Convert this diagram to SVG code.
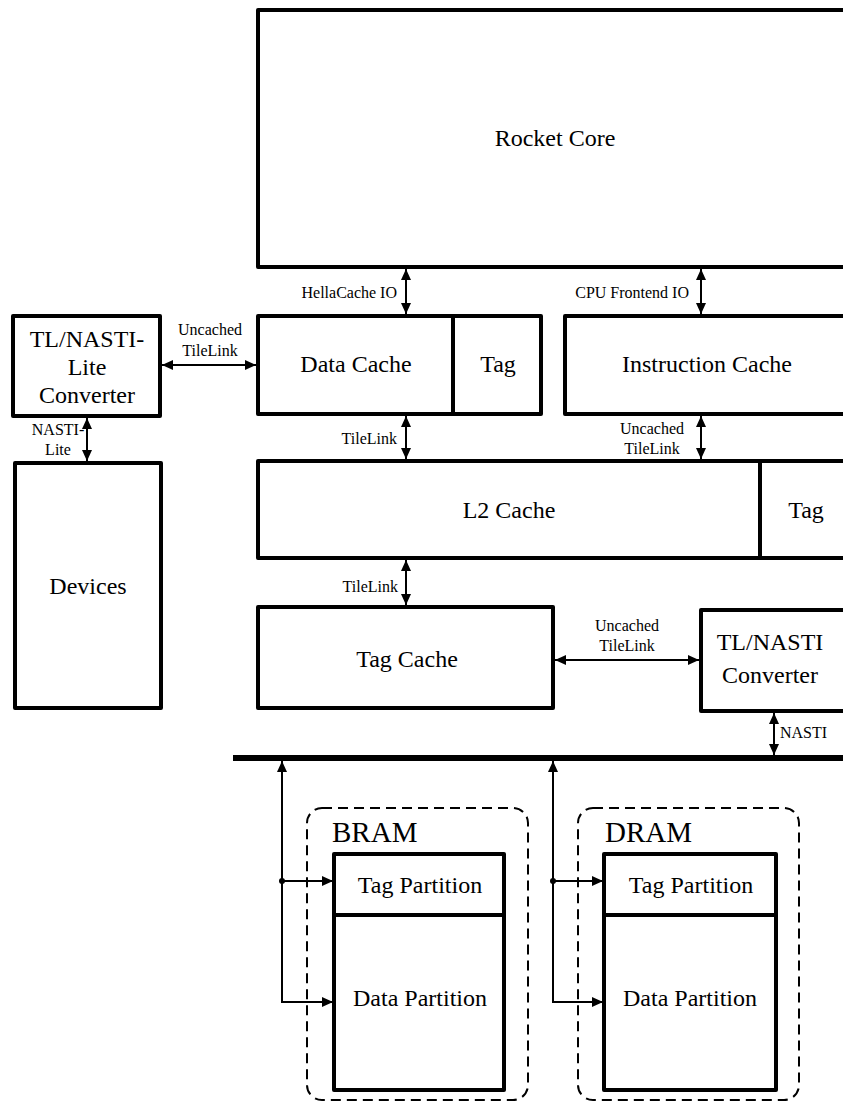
<svg xmlns="http://www.w3.org/2000/svg" width="843" height="1102" viewBox="0 0 843 1102">
  <style>
    .box { fill: #fff; stroke: #000; stroke-width: 4; stroke-linejoin: round; }
    .div { stroke: #000; stroke-width: 4; }
    .dash { fill: none; stroke: #000; stroke-width: 2; stroke-dasharray: 10 6; }
    .lbl { font-family: "Liberation Serif", "Times New Roman", serif; font-size: 24px; fill: #000; text-anchor: middle; }
    .big { font-family: "Liberation Serif", "Times New Roman", serif; font-size: 29px; fill: #000; }
    .sm { font-family: "Liberation Serif", "Times New Roman", serif; font-size: 16px; fill: #000; }
    .mid { text-anchor: middle; }
    .end { text-anchor: end; }
    .wire { fill: none; stroke: #000; stroke-width: 2; }
    .bus { stroke: #000; stroke-width: 6; }
  </style>
  <defs>
    <marker id="head" markerUnits="userSpaceOnUse" markerWidth="11" markerHeight="10" refX="11" refY="5" orient="auto-start-reverse">
      <path d="M0,0 L11,5 L0,10 Z" fill="#000"/>
    </marker>
  </defs>

  <rect width="843" height="1102" fill="#fff"/>

  <!-- core -->
  <g id="rocket-core">
    <rect class="box" x="258" y="10" width="620" height="257"/>
    <text class="lbl" x="555" y="146">Rocket Core</text>
  </g>

  <!-- L1 data cache with tag column -->
  <g id="data-cache">
    <rect class="box" x="258" y="316" width="283" height="98"/>
    <line class="div" x1="453" y1="316" x2="453" y2="414"/>
    <text class="lbl" x="356" y="372">Data Cache</text>
    <text class="lbl" x="498" y="372">Tag</text>
  </g>

  <g id="instruction-cache">
    <rect class="box" x="565" y="316" width="300" height="98"/>
    <text class="lbl" x="707" y="372">Instruction Cache</text>
  </g>

  <g id="tl-nasti-lite">
    <rect class="box" x="13" y="316" width="147" height="100"/>
    <text class="lbl" x="87" y="347">TL/NASTI-</text>
    <text class="lbl" x="87" y="375">Lite</text>
    <text class="lbl" x="87" y="403">Converter</text>
  </g>

  <g id="devices">
    <rect class="box" x="15" y="463" width="146" height="245"/>
    <text class="lbl" x="88" y="594">Devices</text>
  </g>

  <g id="l2-cache">
    <rect class="box" x="258" y="461" width="620" height="97"/>
    <line class="div" x1="760" y1="461" x2="760" y2="558"/>
    <text class="lbl" x="509" y="518">L2 Cache</text>
    <text class="lbl" x="806" y="518">Tag</text>
  </g>

  <g id="tag-cache">
    <rect class="box" x="258" y="607" width="295" height="101"/>
    <text class="lbl" x="407" y="667">Tag Cache</text>
  </g>

  <g id="tl-nasti">
    <rect class="box" x="701" y="610" width="200" height="101"/>
    <text class="lbl" x="770" y="650">TL/NASTI</text>
    <text class="lbl" x="770" y="683">Converter</text>
  </g>

  <!-- memory bus -->
  <g id="bus">
    <line class="bus" x1="233" y1="758" x2="843" y2="758"/>
  </g>

  <g id="bram">
    <rect class="dash" x="307" y="808" width="221" height="292" rx="15"/>
    <text class="big" x="332" y="842">BRAM</text>
    <rect class="box" x="334" y="854" width="170" height="236"/>
    <line class="div" x1="334" y1="915" x2="504" y2="915"/>
    <text class="lbl" x="420" y="893">Tag Partition</text>
    <text class="lbl" x="420" y="1006">Data Partition</text>
  </g>

  <g id="dram">
    <rect class="dash" x="578" y="808" width="221" height="292" rx="15"/>
    <text class="big" x="605" y="842">DRAM</text>
    <rect class="box" x="604" y="854" width="172" height="236"/>
    <line class="div" x1="604" y1="915" x2="776" y2="915"/>
    <text class="lbl" x="691" y="893">Tag Partition</text>
    <text class="lbl" x="690" y="1006">Data Partition</text>
  </g>

  <!-- links between blocks -->
  <g id="connectors">
    <line class="wire" x1="406" y1="269" x2="406" y2="314" marker-start="url(#head)" marker-end="url(#head)"/>
    <line class="wire" x1="701" y1="269" x2="701" y2="314" marker-start="url(#head)" marker-end="url(#head)"/>
    <line class="wire" x1="162" y1="365" x2="256" y2="365" marker-start="url(#head)" marker-end="url(#head)"/>
    <line class="wire" x1="87" y1="418" x2="87" y2="461" marker-start="url(#head)" marker-end="url(#head)"/>
    <line class="wire" x1="406" y1="416" x2="406" y2="459" marker-start="url(#head)" marker-end="url(#head)"/>
    <line class="wire" x1="701" y1="416" x2="701" y2="459" marker-start="url(#head)" marker-end="url(#head)"/>
    <line class="wire" x1="406" y1="560" x2="406" y2="605" marker-start="url(#head)" marker-end="url(#head)"/>
    <line class="wire" x1="555" y1="660" x2="699" y2="660" marker-start="url(#head)" marker-end="url(#head)"/>
    <line class="wire" x1="774" y1="713" x2="774" y2="755" marker-start="url(#head)" marker-end="url(#head)"/>

    <!-- BRAM taps -->
    <line class="wire" x1="282" y1="1002" x2="282" y2="761" marker-end="url(#head)"/>
    <line class="wire" x1="282" y1="881" x2="333" y2="881" marker-end="url(#head)"/>
    <line class="wire" x1="281" y1="1002" x2="333" y2="1002" marker-end="url(#head)"/>
    <circle cx="282" cy="881" r="3" fill="#000"/>

    <!-- DRAM taps -->
    <line class="wire" x1="553" y1="1002" x2="553" y2="761" marker-end="url(#head)"/>
    <line class="wire" x1="553" y1="881" x2="603" y2="881" marker-end="url(#head)"/>
    <line class="wire" x1="552" y1="1002" x2="603" y2="1002" marker-end="url(#head)"/>
    <circle cx="553" cy="881" r="3" fill="#000"/>

    <text class="sm end" x="397" y="298">HellaCache IO</text>
    <text class="sm end" x="689" y="298">CPU Frontend IO</text>
    <text class="sm mid" x="210" y="335">Uncached</text>
    <text class="sm mid" x="210" y="356">TileLink</text>
    <text class="sm mid" x="58" y="435">NASTI-</text>
    <text class="sm mid" x="58" y="455">Lite</text>
    <text class="sm end" x="397" y="444">TileLink</text>
    <text class="sm mid" x="652" y="434">Uncached</text>
    <text class="sm mid" x="652" y="454">TileLink</text>
    <text class="sm end" x="398" y="592">TileLink</text>
    <text class="sm mid" x="627" y="631">Uncached</text>
    <text class="sm mid" x="627" y="651">TileLink</text>
    <text class="sm" x="780" y="738">NASTI</text>
  </g>
</svg>
